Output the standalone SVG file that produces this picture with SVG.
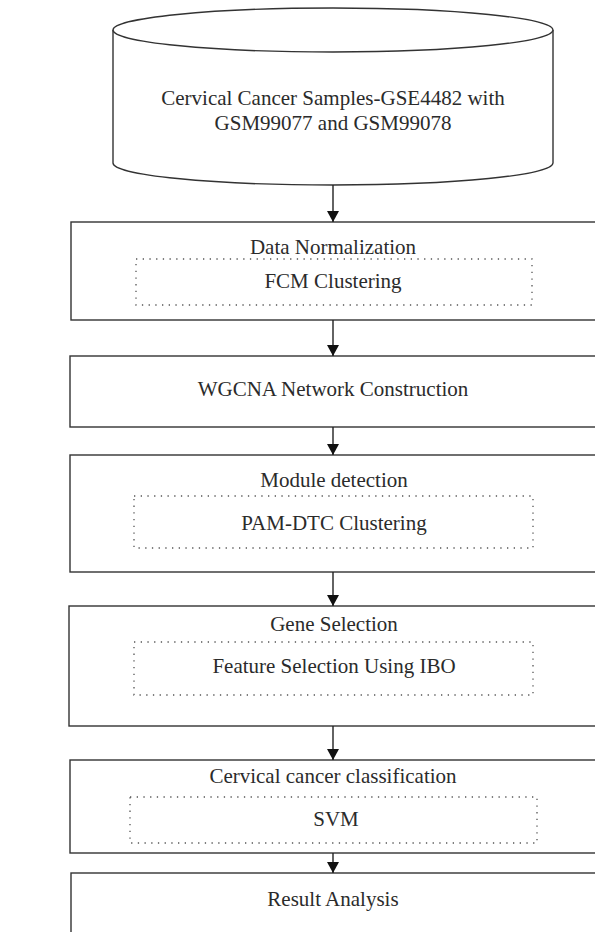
<svg xmlns="http://www.w3.org/2000/svg" width="595" height="932" viewBox="0 0 595 932">
<style>
.box{fill:#fff;stroke:#333;stroke-width:1.4}
.dot{fill:none;stroke:#555;stroke-width:1.3;stroke-dasharray:1.3 5.4}
.t{font-family:"Liberation Serif","Times New Roman",serif;font-size:21px;fill:#2b2b2b;text-anchor:middle}
.c{stroke:#222;stroke-width:1.4;fill:none}
</style>
<defs>
<marker id="ah" viewBox="0 0 11 12" refX="11" refY="6" markerWidth="11" markerHeight="12" markerUnits="userSpaceOnUse" orient="auto">
<path d="M0,0 L11,6 L0,12 Z" fill="#111"/>
</marker>
</defs>
<g id="n0">
<path class="box" d="M113,30 L113,163 A220,22 0 0 0 553,163 L553,30"/>
<ellipse class="box" cx="333" cy="30" rx="220" ry="22"/>
<text class="t" x="333" y="105">Cervical Cancer Samples-GSE4482 with</text>
<text class="t" x="333" y="130">GSM99077 and GSM99078</text>
</g>
<g id="n1">
<rect class="box" x="71" y="222" width="530" height="98"/>
<text class="t" x="333" y="254">Data Normalization</text>
<rect class="dot" x="136" y="259" width="396" height="46"/>
<text class="t" x="333" y="288">FCM Clustering</text>
</g>
<g id="n2">
<rect class="box" x="70" y="356" width="531" height="71"/>
<text class="t" x="333" y="396">WGCNA Network Construction</text>
</g>
<g id="n3">
<rect class="box" x="70" y="455" width="531" height="117"/>
<text class="t" x="334" y="487">Module detection</text>
<rect class="dot" x="134" y="496" width="399" height="52"/>
<text class="t" x="334" y="530">PAM-DTC Clustering</text>
</g>
<g id="n4">
<rect class="box" x="69" y="606" width="532" height="120"/>
<text class="t" x="334" y="631">Gene Selection</text>
<rect class="dot" x="134" y="642" width="399" height="53"/>
<text class="t" x="334" y="673">Feature Selection Using IBO</text>
</g>
<g id="n5">
<rect class="box" x="70" y="760" width="531" height="93"/>
<text class="t" x="333" y="783">Cervical cancer classification</text>
<rect class="dot" x="130" y="797" width="407" height="46"/>
<text class="t" x="336" y="826">SVM</text>
</g>
<g id="n6">
<rect class="box" x="71" y="873" width="530" height="80"/>
<text class="t" x="333" y="906">Result Analysis</text>
</g>
<g id="connectors">
<line class="c" x1="333" y1="185" x2="333" y2="222" marker-end="url(#ah)"/>
<line class="c" x1="333" y1="320" x2="333" y2="356" marker-end="url(#ah)"/>
<line class="c" x1="333" y1="427" x2="333" y2="455" marker-end="url(#ah)"/>
<line class="c" x1="333" y1="572" x2="333" y2="606" marker-end="url(#ah)"/>
<line class="c" x1="333" y1="726" x2="333" y2="760" marker-end="url(#ah)"/>
<line class="c" x1="333" y1="853" x2="333" y2="873" marker-end="url(#ah)"/>
</g>
</svg>
